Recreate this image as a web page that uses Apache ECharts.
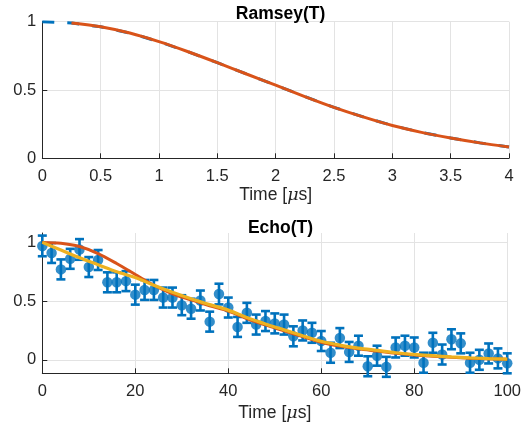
<!DOCTYPE html>
<html>
<head>
<meta charset="utf-8">
<script src="https://cdn.jsdelivr.net/npm/echarts@6/dist/echarts.min.js"></script>
<style>
html,body{margin:0;padding:0;background:#fff;}
#c{width:524px;height:429px;}
</style>
</head>
<body>
<div id="c"></div>
<script>
// Ramsey panel
const ramseyX = [0, 0.25, 0.5, 0.75, 1, 1.25, 1.5, 1.75, 2, 2.25, 2.5, 2.75, 3, 3.25, 3.5, 3.75, 4];
const ramseyData = [1.0, 0.99, 0.963, 0.917, 0.854, 0.78, 0.70, 0.617, 0.535, 0.452, 0.373, 0.303, 0.240, 0.19, 0.149, 0.113, 0.083];
const ramseyFitX = [0.25, 0.5, 0.75, 1, 1.25, 1.5, 1.75, 2, 2.25, 2.5, 2.75, 3, 3.25, 3.5, 3.75, 4];
const ramseyFit = [0.99, 0.963, 0.917, 0.854, 0.78, 0.70, 0.617, 0.535, 0.452, 0.373, 0.303, 0.240, 0.19, 0.149, 0.113, 0.083];

// Echo panel
const echoX = [0,2,4,6,8,10,12,14,16,18,20,22,24,26,28,30,32,34,36,38,40,42,44,46,48,50,52,54,56,58,60,62,64,66,68,70,72,74,76,78,80,82,84,86,88,90,92,94,96,98,100];
const echoY = [0.97,0.91,0.77,0.86,0.94,0.79,0.85,0.66,0.66,0.67,0.555,0.595,0.595,0.53,0.53,0.465,0.435,0.505,0.325,0.56,0.445,0.28,0.40,0.30,0.33,0.31,0.30,0.20,0.25,0.23,0.16,0.06,0.185,0.067,0.12,-0.055,0.035,-0.06,0.105,0.12,0.105,-0.025,0.145,0.045,0.175,0.14,-0.025,0.0,0.054,0.012,-0.03];
const echoErr = [0.088,0.085,0.085,0.085,0.088,0.085,0.085,0.085,0.085,0.085,0.085,0.085,0.085,0.085,0.085,0.085,0.085,0.085,0.085,0.088,0.085,0.085,0.085,0.085,0.085,0.085,0.085,0.085,0.085,0.085,0.085,0.085,0.085,0.085,0.085,0.085,0.085,0.085,0.085,0.085,0.085,0.085,0.085,0.085,0.085,0.085,0.085,0.085,0.085,0.085,0.085];
const gaussFitX = [0,4,8,12,16,20,24,28,32,36,40,44,48,52,56,60,64,68,72,76,80,84,88,92,96,100];
const gaussFit  = [1.0,0.993,0.965,0.905,0.82,0.727,0.635,0.562,0.51,0.46,0.415,0.352,0.297,0.247,0.197,0.15,0.117,0.093,0.074,0.055,0.041,0.031,0.022,0.014,0.008,0.004];
const expFitX = [0,4,8,12,16,20,24,28,32,36,40,44,48,52,56,60,64,68,72,76,80,84,88,92,96,100];
const expFit  = [1.0,0.935,0.87,0.81,0.75,0.70,0.635,0.575,0.52,0.47,0.423,0.36,0.305,0.255,0.205,0.158,0.125,0.10,0.08,0.06,0.046,0.035,0.025,0.017,0.01,0.006];

const xTitleRamsey = 'Ramsey(T)';
const xTitleEcho = 'Echo(T)';
const axisName = 'Time [{i|\u03bc}s]';

const FONT = "'Liberation Sans', Arial, Helvetica, sans-serif";
const AX = '#262626';
const GRIDC = '#e3e3e3';
const BLUE = '#0072BD', ORANGE = '#D95319', YELLOW = '#EDB120';

function pairs(xs, ys){ return xs.map((x,i)=>[x, ys[i]]); }

function xAxisCfg(gi, min, max, interval, gap){
  return {
    type:'value', gridIndex:gi, min:min, max:max, interval:interval,
    name: axisName, nameLocation:'middle', nameGap:gap,
    nameTextStyle:{color:AX, fontSize:17.5, fontFamily:FONT,
      rich:{i:{fontStyle:'italic', fontSize:17.5, fontFamily:"'DejaVu Serif', serif", color:AX}}},
    axisLine:{show:true, onZero:false, lineStyle:{color:AX, width:1}},
    axisTick:{show:true, inside:true, length:5, lineStyle:{color:AX, width:1}},
    axisLabel:{color:AX, fontSize:16.5, fontFamily:FONT, margin:10},
    splitLine:{show:true, lineStyle:{color:GRIDC, width:1}}
  };
}

const option = {
  animation:false,
  backgroundColor:'#fff',
  title:[
    {text:xTitleRamsey, left:275.5, top:0, textAlign:'center',
     textStyle:{fontSize:17.5, fontWeight:'bold', color:'#000', fontFamily:FONT}},
    {text:xTitleEcho, left:275.5, top:214, textAlign:'center',
     textStyle:{fontSize:17.5, fontWeight:'bold', color:'#000', fontFamily:FONT}}
  ],
  grid:[
    {left:42.3, top:21.7, width:466.7, height:136.6},
    {left:42.3, top:233, width:466.7, height:140.3}
  ],
  xAxis:[
    xAxisCfg(0, 0, 4, 0.5, 28),
    xAxisCfg(1, 0, 100, 20, 31)
  ],
  yAxis:[
    {type:'value', gridIndex:0, min:0, max:1, interval:0.5,
     axisLine:{show:true, onZero:false, lineStyle:{color:AX, width:1}},
     axisTick:{show:true, inside:true, length:5, lineStyle:{color:AX, width:1}},
     axisLabel:{color:AX, fontSize:16.5, fontFamily:FONT, margin:6},
     splitLine:{show:true, lineStyle:{color:GRIDC, width:1}}},
    {type:'value', gridIndex:1, min:-0.115, max:1.08,
     axisLine:{show:true, onZero:false, lineStyle:{color:AX, width:1}},
     axisTick:{show:true, inside:true, length:5, customValues:[0,0.5,1], lineStyle:{color:AX, width:1}},
     axisLabel:{color:AX, fontSize:16.5, fontFamily:FONT, margin:6, customValues:[0,0.5,1]},
     splitLine:{show:true, lineStyle:{color:GRIDC, width:1}}}
  ],
  series:[
    {type:'line', xAxisIndex:0, yAxisIndex:0, data:pairs(ramseyX, ramseyData), showSymbol:false, symbol:'none',
     lineStyle:{color:BLUE, width:3, type:[12,13]}},
    {type:'line', xAxisIndex:0, yAxisIndex:0, data:pairs(ramseyFitX, ramseyFit), showSymbol:false, symbol:'none', smooth:0.3,
     lineStyle:{color:ORANGE, width:3}},
    {type:'custom', xAxisIndex:1, yAxisIndex:1, clip:false,
     data: echoX.map((x,i)=>[x, echoY[i], echoErr[i]]),
     renderItem: function(params, api){
       const x = api.value(0), y = api.value(1), e = api.value(2);
       const t = api.coord([x, y+e]);
       const b = api.coord([x, y-e]);
       const hw = 4.5;
       const st = {stroke:BLUE, lineWidth:2.6};
       return {type:'group', children:[
         {type:'line', shape:{x1:t[0], y1:t[1], x2:b[0], y2:b[1]}, style:st},
         {type:'line', shape:{x1:t[0]-hw, y1:t[1], x2:t[0]+hw, y2:t[1]}, style:st},
         {type:'line', shape:{x1:b[0]-hw, y1:b[1], x2:b[0]+hw, y2:b[1]}, style:st}
       ]};
     }},
    {type:'scatter', xAxisIndex:1, yAxisIndex:1, clip:false, data:pairs(echoX, echoY),
     symbol:'circle', symbolSize:10.5, itemStyle:{color:BLUE}},
    {type:'line', xAxisIndex:1, yAxisIndex:1, data:pairs(gaussFitX, gaussFit), showSymbol:false, symbol:'none', smooth:0.3,
     lineStyle:{color:ORANGE, width:3}},
    {type:'line', xAxisIndex:1, yAxisIndex:1, data:pairs(expFitX, expFit), showSymbol:false, symbol:'none', smooth:0.3,
     lineStyle:{color:YELLOW, width:3.2}}
  ]
};

const chart = echarts.init(document.getElementById('c'), null, {renderer:'canvas'});
chart.setOption(option);
</script>
</body>
</html>
